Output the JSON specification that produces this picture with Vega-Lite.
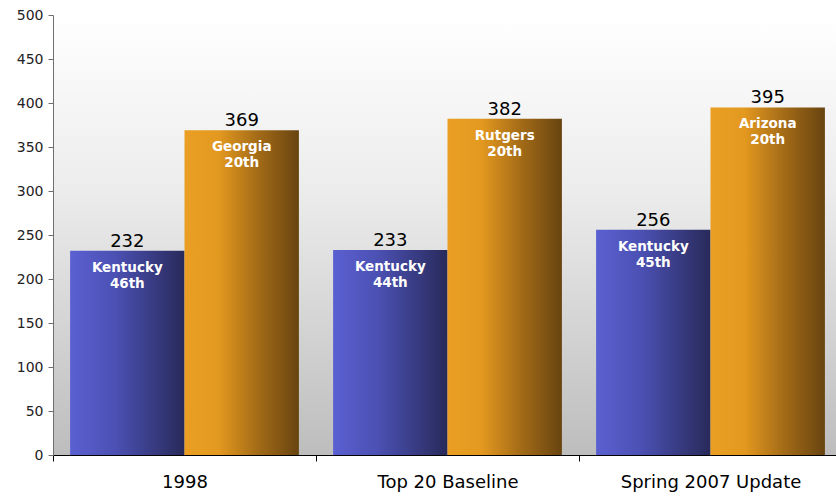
{
  "$schema": "https://vega.github.io/schema/vega-lite/v6.json",
  "width": 783,
  "height": 440,
  "autosize": {"type": "none"},
  "padding": {"left": 53, "top": 15, "right": 0, "bottom": 41},
  "background": "white",
  "config": {
    "font": "DejaVu Sans",
    "view": {
      "stroke": null,
      "fill": {
        "gradient": "linear",
        "x1": 0, "y1": 0, "x2": 0, "y2": 1,
        "stops": [
          {"offset": 0, "color": "#ffffff"},
          {"offset": 0.4, "color": "#ececec"},
          {"offset": 1, "color": "#bdbdbd"}
        ]
      }
    }
  },
  "data": {
    "values": [
      {"group": "1998", "series": "Kentucky", "value": 232, "label": "Kentucky\n46th"},
      {"group": "1998", "series": "Top20", "value": 369, "label": "Georgia\n20th"},
      {"group": "Top 20 Baseline", "series": "Kentucky", "value": 233, "label": "Kentucky\n44th"},
      {"group": "Top 20 Baseline", "series": "Top20", "value": 382, "label": "Rutgers\n20th"},
      {"group": "Spring 2007 Update", "series": "Kentucky", "value": 256, "label": "Kentucky\n45th"},
      {"group": "Spring 2007 Update", "series": "Top20", "value": 395, "label": "Arizona\n20th"}
    ]
  },
  "encoding": {
    "x": {
      "field": "group",
      "type": "nominal",
      "sort": ["1998", "Top 20 Baseline", "Spring 2007 Update"],
      "scale": {"range": [0, 789], "paddingInner": 0.13, "paddingOuter": 0.065},
      "axis": {
        "title": null,
        "labelAngle": 0,
        "labelFont": "DejaVu Sans",
        "labelFontSize": 18,
        "labelColor": "#000000",
        "labelPadding": 12,
        "labelLimit": 0,
        "domainColor": "#000000",
        "tickColor": "#000000",
        "tickSize": 6,
        "tickOffset": -131.5,
        "labelOffset": 131.5,
        "grid": false
      }
    },
    "xOffset": {
      "field": "series",
      "type": "nominal",
      "sort": ["Kentucky", "Top20"],
      "scale": {"paddingInner": 0, "paddingOuter": 0}
    },
    "y": {
      "field": "value",
      "type": "quantitative",
      "scale": {"domain": [0, 500], "nice": false},
      "axis": {
        "title": null,
        "values": [0, 50, 100, 150, 200, 250, 300, 350, 400, 450, 500],
        "labelFont": "DejaVu Sans",
        "labelFontSize": 14,
        "labelColor": "#222222",
        "labelPadding": 5,
        "domainColor": "#6f6f6f",
        "tickColor": "#6f6f6f",
        "tickSize": 5,
        "grid": false
      }
    }
  },
  "layer": [
    {
      "transform": [{"filter": "datum.series === 'Kentucky'"}],
      "mark": {
        "type": "bar",
        "fill": {
          "gradient": "linear",
          "x1": 0, "y1": 0, "x2": 1, "y2": 0,
          "stops": [
            {"offset": 0, "color": "#5b60d2"},
            {"offset": 0.4, "color": "#4b50b2"},
            {"offset": 1, "color": "#282a5a"}
          ]
        },
        "stroke": null
      }
    },
    {
      "transform": [{"filter": "datum.series === 'Top20'"}],
      "mark": {
        "type": "bar",
        "fill": {
          "gradient": "linear",
          "x1": 0, "y1": 0, "x2": 1, "y2": 0,
          "stops": [
            {"offset": 0, "color": "#ea9f24"},
            {"offset": 0.3, "color": "#e3981f"},
            {"offset": 0.65, "color": "#a26a17"},
            {"offset": 1, "color": "#684410"}
          ]
        },
        "stroke": null
      }
    },
    {
      "mark": {"type": "text", "baseline": "alphabetic", "dy": -4, "fontSize": 18, "color": "#000000"},
      "encoding": {"text": {"field": "value", "type": "quantitative"}}
    },
    {
      "mark": {
        "type": "text",
        "baseline": "alphabetic",
        "dy": 21,
        "fontSize": 13.5,
        "fontWeight": "bold",
        "color": "#ffffff",
        "lineBreak": "\n",
        "lineHeight": 16
      },
      "encoding": {"text": {"field": "label", "type": "nominal"}}
    }
  ]
}
